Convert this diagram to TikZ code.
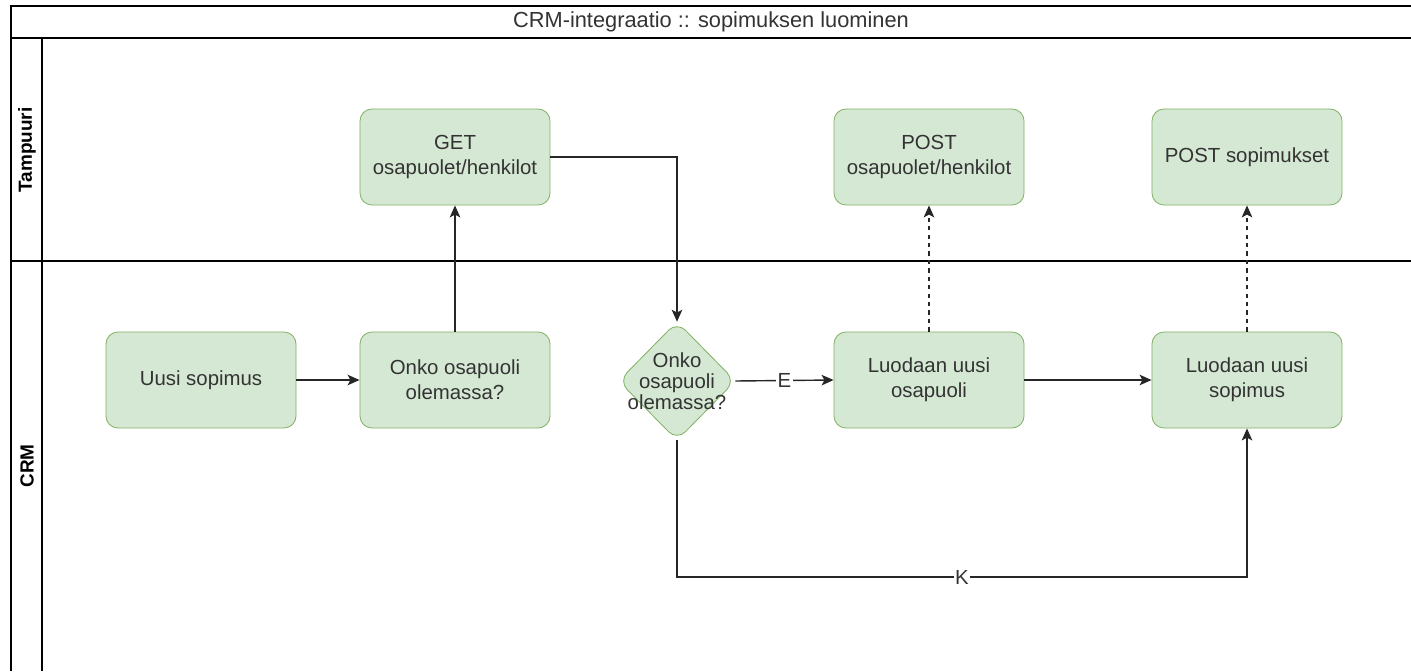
\documentclass[tikz,border=0pt]{standalone}
\usepackage{fontspec}
\setmainfont{Liberation Sans}
\usetikzlibrary{arrows.meta}
\definecolor{boxfill}{HTML}{D5E8D4}
\definecolor{boxline}{HTML}{82B366}
\definecolor{txt}{HTML}{333333}
\pgfdeclarelayer{background}
\pgfsetlayers{background,main}
\tikzset{
  frame/.style={draw=black, line width=1.1pt},
  box/.style={draw=boxline, fill=boxfill, rounded corners=0.3cm, line width=0.6pt,
    minimum width=4.75cm, minimum height=2.4cm, align=center, text=txt,
    font=\fontsize{14.5}{17.5}\selectfont, inner sep=2pt},
  dia/.style={rectangle, minimum width=2.9cm, minimum height=2.95cm, inner sep=0pt,
    align=center, text=txt, font=\fontsize{14.5}{14.8}\selectfont},
  diashape/.style={draw=boxline, fill=boxfill, line width=0.6pt, rounded corners=0.3cm},
  conn/.style={draw=black!85, line width=1pt, -{Stealth[length=8.5pt,width=7.5pt,inset=2pt]}},
  dconn/.style={conn, dash pattern=on 3pt off 3pt},
  lbl/.style={fill=white, text=txt, inner sep=1pt, font=\fontsize{14.5}{17}\selectfont},
  lanelabel/.style={font=\bfseries\fontsize{13.5}{16}\selectfont, text=black, rotate=90},
  titlelabel/.style={font=\fontsize{15.5}{18}\selectfont, text=txt}
}
\begin{document}
\begin{tikzpicture}[x=0.025cm, y=-0.025cm]
\useasboundingbox (0,0) rectangle (1411,671);
% frame
\draw[frame] (1411,6) -- (11,6) -- (11,671);
\draw[frame] (11,38) -- (1411,38);
\draw[frame] (42,38) -- (42,671);
\draw[frame] (11,261) -- (1411,261);
\node[titlelabel] (title) at (711,22) {CRM-integraatio :: sopimuksen luominen};
\node[lanelabel] (tamp) at (27,150) {Tampuuri};
\node[lanelabel] (crm) at (27,466) {CRM};
% nodes
\node[box] (uusi) at (201,380) {Uusi sopimus};
\node[box] (onko) at (455,380) {Onko osapuoli\\olemassa?};
\node[box] (get) at (455,157) {GET\\osapuolet/henkilot};
\node[dia] (dec) at (677,381) {Onko\\osapuoli\\olemassa?};
\begin{pgfonlayer}{background}
\draw[diashape] (dec.north) -- (dec.east) -- (dec.south) -- (dec.west) -- cycle;
\end{pgfonlayer}
\node[box] (luo1) at (929,380) {Luodaan uusi\\osapuoli};
\node[box] (post1) at (929,157) {POST\\osapuolet/henkilot};
\node[box] (post2) at (1247,157) {POST sopimukset};
\node[box] (luo2) at (1247,380) {Luodaan uusi\\sopimus};
\coordinate (kturn) at (677,577);
% connectors
\draw[conn] (uusi) -- (onko);
\draw[conn] (onko) -- (get);
\draw[conn] (get.east) -| (dec.north);
\draw[conn] (dec.east) -- node[lbl]{E} (luo1.west);
\draw[conn] (luo1) -- (luo2);
\draw[dconn] (luo1) -- (post1);
\draw[dconn] (luo2) -- (post2);
\draw[conn] (dec.south) -- (kturn) -| node[lbl, pos=0.25]{K} (luo2.south);
\end{tikzpicture}
\end{document}
